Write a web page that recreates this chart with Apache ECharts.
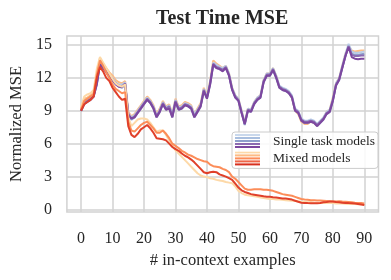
<!DOCTYPE html>
<html>
<head>
<meta charset="utf-8">
<script src="https://cdn.jsdelivr.net/npm/echarts@6/dist/echarts.min.js"></script>
<style>html,body{margin:0;padding:0;background:#fff;}#c{width:391px;height:280px;}</style>
</head>
<body>
<div id="c"></div>
<script>
// ---- data ----
const examples = Array.from({length: 91}, (_, i) => i);
const xTicks = [0, 10, 20, 30, 40, 50, 60, 70, 80, 90];
const yTicks = [0, 3, 6, 9, 12, 15];

const singleA = [9.0,9.8,10.0,10.2,10.5,11.7,13.5,13.1,12.7,12.3, 12.0,11.6,11.4,11.4,11.6,8.8,8.4,8.6,9.0,9.4, 9.8,10.2,9.9,9.4,8.6,9.1,9.8,9.3,9.5,8.7, 10.0,9.3,9.4,9.7,9.6,9.4,8.7,9.1,9.6,11.0, 10.3,11.6,13.4,13.2,13.0,12.9,13.1,12.4,11.1,10.4, 10.1,9.0,7.9,9.2,9.1,9.8,10.2,10.4,11.8,12.4, 12.4,12.9,12.2,11.3,11.1,11.0,10.8,10.4,9.2,9.0, 8.3,8.1,8.1,8.2,8.1,7.8,8.1,8.4,8.9,9.1, 10.1,11.5,12.0,13.1,14.2,15.1,14.4,14.3,14.3,14.35,14.4];
const singleB = [9.0,9.7,9.9,10.0,10.3,11.4,13.3,12.9,12.6,12.2, 11.8,11.5,11.2,11.1,11.4,8.6,8.2,8.4,8.8,9.2, 9.6,10.0,9.7,9.2,8.4,8.9,9.6,9.1,9.3,8.4, 9.8,9.1,9.2,9.5,9.4,9.2,8.4,8.9,9.4,10.8, 10.1,11.4,13.2,12.9,12.8,12.7,12.9,12.2,10.9,10.2, 9.9,8.8,7.7,9.0,8.9,9.6,10.0,10.2,11.6,12.2, 12.2,12.7,12.0,11.1,10.9,10.8,10.6,10.2,9.0,8.8, 8.1,7.9,7.9,8.0,7.9,7.6,7.9,8.2,8.7,8.9, 9.9,11.3,11.8,12.9,14.0,14.9,14.2,14.1,14.1,14.15,14.2];
const singleC = [9.0,9.7,9.9,10.1,10.4,11.5,13.4,13.0,12.6,12.2, 11.9,11.5,11.3,11.2,11.5,8.7,8.3,8.5,8.9,9.3, 9.7,10.1,9.8,9.3,8.5,9.0,9.7,9.2,9.4,8.5, 9.9,9.2,9.3,9.6,9.5,9.3,8.5,9.0,9.5,10.9, 10.2,11.5,13.3,13.0,12.9,12.75,13.0,12.3,11.0,10.3, 10.0,8.9,7.8,9.1,9.0,9.7,10.1,10.3,11.7,12.3, 12.3,12.8,12.1,11.2,11.0,10.9,10.7,10.3,9.1,8.9, 8.2,8.0,8.0,8.1,8.0,7.7,8.0,8.3,8.8,9.0, 10.0,11.4,11.9,13.0,14.0,14.9,14.1,14.0,14.0,14.05,14.05];
const singleD = [9.0,9.6,9.8,10.0,10.3,11.4,13.2,12.9,12.5,12.1, 11.8,11.4,11.2,11.2,11.4,8.6,8.3,8.4,8.8,9.2, 9.6,10.0,9.7,9.2,8.4,8.9,9.6,9.1,9.2,8.4, 9.8,9.1,9.2,9.5,9.4,9.2,8.4,8.9,9.4,10.8, 10.1,11.4,13.2,12.9,12.8,12.6,12.9,12.2,10.9,10.2, 9.9,8.8,7.8,9.0,8.9,9.6,10.0,10.2,11.6,12.2, 12.2,12.7,12.0,11.1,10.9,10.8,10.6,10.2,9.0,8.8, 8.1,7.9,7.9,8.0,7.9,7.6,7.9,8.2,8.7,8.9, 9.9,11.3,11.8,12.9,14.0,14.8,13.9,13.75,13.7,13.75,13.75];

const mixedJ = [9.2,10.1,10.2,10.4,10.7,12.0,13.8,13.3,12.9,12.5, 12.2,11.8,11.6,11.5,11.7,8.9,8.5,8.7,9.1,9.5, 9.9,10.3,10.0,9.5,8.7,9.2,9.9,9.4,9.6,8.7, 10.1,9.4,9.5,9.8,9.7,9.5,8.7,9.2,9.7,11.1, 10.4,11.7,13.6,13.3,13.1,12.9,13.1,12.4,11.1,10.4, 10.1,9.0,7.9,9.2,9.1,9.8,10.2,10.4,11.8,12.4, 12.4,12.9,12.2,11.2,11.0,10.9,10.7,10.2,9.0,8.7, 8.0,7.8,7.8,8.0,7.9,7.6,8.0,8.3,8.9,9.1, 10.2,11.5,12.0,13.1,14.2,14.9,14.5,14.4,14.45,14.5,14.5];
const mixedPeach = [9.3,10.3,10.5,10.6,10.9,12.8,13.9,13.4,12.9,12.4, 11.9,11.5,11.3,11.2,11.4,8.4,7.6,7.9,8.2,8.3, 8.3,8.2,7.9,7.5,7.1,7.2,7.2,6.8,6.3,5.8, 5.4,5.1,4.8,4.5,4.2,3.9,3.6,3.3,3.1,3.0, 2.95,2.85,2.8,2.7,2.65,2.6,2.5,2.45,2.4,2.1, 1.7,1.5,1.35,1.3,1.25,1.2,1.15,1.1,1.05,1.0, 0.95,0.95,0.9,0.9,0.88,0.85,0.82,0.8,0.78,0.75, 0.7,0.68,0.65,0.65,0.62,0.6,0.6,0.6,0.58,0.58, 0.58,0.55,0.55,0.55,0.52,0.5,0.5,0.5,0.48,0.47,0.46];
const mixedOrange = [9.1,9.9,10.1,10.3,10.5,12.3,13.6,13.1,12.5,12.0, 11.4,11.0,10.8,10.6,10.7,8.0,7.2,7.1,7.4,7.7, 7.9,8.0,7.7,7.4,7.0,7.0,7.2,6.9,6.5,6.0, 5.8,5.6,5.35,5.2,5.0,4.9,4.75,4.6,4.5,4.4, 4.35,4.1,3.95,3.9,3.85,3.7,3.6,3.4,3.0,2.8, 2.5,2.2,1.9,1.8,1.8,1.85,1.85,1.85,1.8,1.8, 1.75,1.7,1.6,1.5,1.4,1.35,1.3,1.25,1.15,1.05, 0.95,0.9,0.88,0.85,0.85,0.82,0.82,0.8,0.78,0.75, 0.72,0.72,0.75,0.72,0.7,0.68,0.65,0.62,0.6,0.58,0.55];
const mixedRed = [9.0,9.6,9.8,10.0,10.3,12.0,13.0,12.6,12.0,11.7, 11.1,10.7,10.3,10.0,10.1,7.6,6.8,6.6,6.9,7.3, 7.5,7.7,7.4,7.0,6.5,6.45,6.4,6.3,6.0,5.7, 5.5,5.35,5.1,4.9,4.75,4.55,4.3,4.0,3.7,3.4, 3.3,3.4,3.45,3.4,3.2,3.1,3.0,2.85,2.7,2.35, 2.0,1.75,1.6,1.5,1.4,1.35,1.3,1.25,1.2,1.17, 1.15,1.12,1.1,1.05,1.0,1.0,0.95,0.9,0.8,0.7, 0.62,0.6,0.58,0.57,0.57,0.57,0.6,0.65,0.68,0.72, 0.72,0.68,0.65,0.62,0.6,0.58,0.57,0.55,0.5,0.45,0.4];

// ---- styling ----
const FONT = 'Liberation Serif';
const TXT = '#262626';
const GRIDC = '#d2d2d2';

function stripeIcon(colors) {
  let s = "<svg xmlns='http://www.w3.org/2000/svg' width='33' height='15' viewBox='0 0 33 15'>";
  colors.forEach((c, i) => {
    s += "<rect x='0' y='" + (i * 3) + "' width='25' height='2' fill='" + c + "'/>";
  });
  s += "</svg>";
  return 'image://data:image/svg+xml;charset=utf-8,' + encodeURIComponent(s);
}
const singleColors = ['#c9d8ec', '#a9bfdf', '#8f9fcc', '#8c6bb1', '#7d479f'];
const mixedColors = ['#fdd9a8', '#fdbb84', '#fc8d59', '#ef6548', '#d7301f'];

function line(name, data, color) {
  return {
    type: 'line', name: name,
    data: examples.map((x, i) => [x, data[i]]),
    showSymbol: false, symbol: 'none', clip: false,
    lineStyle: {width: 2, color: color}, itemStyle: {color: color},
    emphasis: {disabled: true}
  };
}

const chart = echarts.init(document.getElementById('c'), null, {renderer: 'canvas'});
chart.setOption({
  animation: false,
  backgroundColor: '#ffffff',
  title: {
    text: 'Test Time MSE', left: 151, top: 4,
    textStyle: {fontFamily: FONT, fontSize: 20, fontWeight: 'bold', color: TXT}
  },
  grid: {
    left: 66.5, right: 12.5, top: 36, bottom: 68,
    show: true, borderColor: GRIDC, borderWidth: 1.5, backgroundColor: 'transparent'
  },
  legend: {
    left: 232, top: 132,
    orient: 'vertical',
    padding: [2, 3, 2, 3],
    itemWidth: 33, itemHeight: 15, itemGap: 2.4,
    backgroundColor: 'rgba(255,255,255,0.85)',
    borderColor: '#cccccc', borderWidth: 1, borderRadius: 3,
    textStyle: {fontFamily: FONT, fontSize: 13.5, color: TXT},
    selectedMode: false,
    data: [
      {name: 'Single task models', icon: stripeIcon(singleColors)},
      {name: 'Mixed models', icon: stripeIcon(mixedColors)}
    ]
  },
  xAxis: {
    type: 'value', min: -4.5, max: 94.5,
    name: '# in-context examples', nameLocation: 'middle', nameGap: 39,
    nameTextStyle: {fontFamily: FONT, fontSize: 16.5, color: TXT},
    axisLine: {show: false},
    axisTick: {show: false, customValues: xTicks},
    axisLabel: {customValues: xTicks, fontFamily: FONT, fontSize: 16, color: TXT, margin: 19},
    splitLine: {show: true, lineStyle: {color: GRIDC, width: 1.5}}
  },
  yAxis: {
    type: 'value', min: -0.23, max: 15.82,
    name: 'Normalized MSE', nameLocation: 'middle', nameGap: 38,
    nameTextStyle: {fontFamily: FONT, fontSize: 16.5, color: TXT},
    axisLine: {show: false},
    axisTick: {show: false, customValues: yTicks},
    axisLabel: {customValues: yTicks, fontFamily: FONT, fontSize: 16, color: TXT, margin: 15},
    splitLine: {show: true, lineStyle: {color: GRIDC, width: 1.5}}
  },
  series: [
    line('Mixed models', mixedJ, '#fdbb84'),
    line('Single task models', singleA, '#b9cce6'),
    line('Single task models', singleB, '#8f9fcc'),
    line('Single task models', singleC, '#8c6bb1'),
    line('Single task models', singleD, '#7d479f'),
    line('Mixed models', mixedPeach, '#fdd9a8'),
    line('Mixed models', mixedOrange, '#fc8d59'),
    line('Mixed models', mixedRed, '#e0402a')
  ]
});
</script>
</body>
</html>
